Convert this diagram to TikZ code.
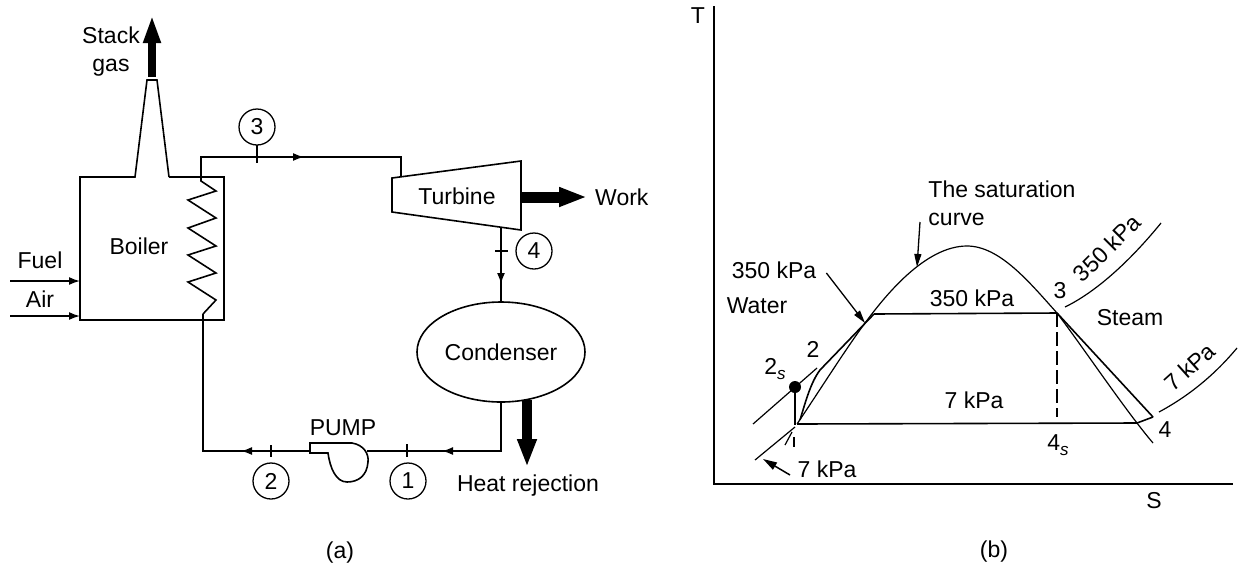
\documentclass[tikz,border=0pt]{standalone}
\usepackage{fontspec}
\setmainfont{Liberation Sans}
\usetikzlibrary{shapes,arrows}
\usetikzlibrary{arrows.meta}
\usetikzlibrary{positioning}
\usetikzlibrary{calc}
\newcommand\mystate[3]{%
  \node[mystate] (#1) at (#3) {#2};
}
\newcommand\mysub[2]{#1\raisebox{-5pt}{\fontsize{17}{17}\selectfont\textit{#2}}}
\begin{document}
\begin{tikzpicture}[
x=1pt,y=-1pt,
every node/.style={font=\fontsize{23}{28}\selectfont,inner sep=0pt},
node distance=8pt,
pipe/.style={line width=1.6pt},
thinline/.style={line width=1.2pt},
flow/.style={line width=1.6pt,-{Latex[length=11pt,width=8pt]}},
mystate/.style={circle,draw,line width=1.3pt,minimum size=36pt}
]
\useasboundingbox (0,0) rectangle (1239,566);
\fill[white] (0,0) rectangle (1239,566);

% boiler
\coordinate (stackl) at (135,177);
\coordinate (stackr) at (169,177);
\draw[pipe] (stackr) -- (224,177) -- (224,320) -- (80,320) -- (80,177) -- (stackl) -- (147,80) -- (157,80) -- (stackr);
\node (boiler) at (139,246) {Boiler};
\node (fuel) at (40,260) {Fuel};
\node (air) at (40,299) {Air};
\coordinate (fuel0) at (10,281);
\coordinate (fuel1) at (80,281);
\coordinate (air0) at (10,316);
\coordinate (air1) at (80,316);
\draw[flow] (fuel0) -- (fuel1);
\draw[flow] (air0) -- (air1);
\coordinate (stack0) at (152,77);
\coordinate (stack1) at (152,15);
\draw[line width=8pt,-{Triangle[length=28pt,width=16pt]}] (stack0) -- (stack1);
\node[align=center] (stackgas) at (111,52) {Stack\\gas};

% coil
\coordinate (coil0) at (201,177);
\coordinate (coil9) at (203,314);
\draw[pipe] (coil0) -- (201,181) -- (216,191) -- (188,200) -- (216,218) -- (188,228) -- (216,246) -- (188,255) -- (216,273) -- (188,282) -- (216,300) -- (coil9);

% turbine and condenser
\coordinate (turb1) at (392,178);
\coordinate (turb2) at (521,161);
\coordinate (turb3) at (521,230);
\coordinate (turb4) at (392,212);
\draw[pipe] (turb1) -- (turb2) -- (turb3) -- (turb4) -- cycle;
\node (turbine) at (457,196) {Turbine};
\coordinate (work0) at (522,197);
\coordinate (work1) at (587,197);
\draw[line width=11pt,-{Triangle[length=28pt,width=18pt]}] (work0) -- (work1);
\node[right=8pt of work1] (work) {Work};
\node[ellipse,draw,line width=1.6pt,minimum width=168pt,minimum height=100pt] (condenser) at (501,352) {Condenser};
\coordinate (heat0) at (527,400);
\coordinate (heat1) at (527,467);
\draw[line width=10pt,-{Triangle[length=28pt,width=18pt]}] (heat0) -- (heat1);
\node (heat) at (528,486) {Heat rejection};

% pump
\coordinate (pumpout) at (310,451);
\coordinate (pumpin) at (367,451);
\draw[pipe] (310,443) -- (352,443) .. controls (364,445) and (369,454) .. (368,462) .. controls (367,476) and (358,482) .. (347,482) .. controls (336,482) and (330,468) .. (328,453) -- (310,453) -- cycle;
\node (pump) at (343,428) {PUMP};

% connecting lines
\coordinate (pipe3a) at (201,157);
\coordinate (pipe3b) at (401,157);
\coordinate (pipe3c) at (401,176);
\coordinate (pipe2) at (203,451);
\coordinate (pipe1) at (501,451);
\coordinate (pipe4) at (501,228);
\draw[pipe] (coil0) -- (pipe3a) -- (pipe3b) -- (pipe3c);
\draw[flow] (pipe3a) -- (304,157);
\draw[pipe] (pipe4) -- (condenser.north);
\draw[flow] (pipe4) -- (501,284);
\draw[pipe] (condenser.south) -- (pipe1) -- (pumpin);
\draw[flow] (pipe1) -- (442,451);
\draw[pipe] (pumpout) -- (pipe2) -- (coil9);
\draw[flow] (pumpout) -- (241,451);

\mystate{s3}{3}{257,127}
\mystate{s4}{4}{534,251}
\mystate{s1}{1}{408,481}
\mystate{s2}{2}{271,481}
\draw[thinline] (257,145) -- (257,163);
\draw[thinline] (495,251) -- (508,251);
\draw[thinline] (407,444) -- (407,457);
\draw[thinline] (271,445) -- (271,457);
\node (capa) at (340,553) {(a)};

% axes
\coordinate (torigin) at (714,484);
\coordinate (ttop) at (714,6);
\coordinate (send) at (1233,484);
\draw[pipe] (ttop) -- (torigin) -- (send);
\node (tlabel) at (698,16) {T};
\node (slabel) at (1154,501) {S};
\node (capb) at (994,552) {(b)};

% saturation curve
\coordinate (liq) at (797,424);
\coordinate (vap) at (1057,313);
\coordinate (vapend) at (1153,443);
\draw[thinline] (liq) .. controls (820,390) and (845,350) .. (865,323) .. controls (885,296) and (925,246) .. (967,246) .. controls (1000,246) and (1030,283) .. (vap) .. controls (1085,350) and (1125,410) .. (vapend);

% cycle lines
\coordinate (p7r) at (1137,423);
\coordinate (s4end) at (1153,417);
\draw[pipe] (liq) -- (p7r) -- (s4end);
\draw[pipe] (874,314) -- (vap);
\draw[pipe] (vap) -- (s4end);
\draw[pipe] (800,420) .. controls (806,400) and (811,382) .. (820,370) -- (874,314);
\draw[thinline,dashed,dash pattern=on 14pt off 5pt] (vap) -- (1057,417);

% isobars
\draw[thinline] (753,424) -- (817,368);
\draw[thinline] (755,460) -- (795,427);
\draw[thinline] (1065,307) .. controls (1100,290) and (1135,255) .. (1161,223);
\draw[thinline] (1159,412) .. controls (1185,398) and (1212,378) .. (1237,348);
\node[circle,fill=black,minimum size=12pt] (dot2s) at (795,387) {};
\draw[thinline] (dot2s) -- (795,425);
\draw[thinline] (794,437) -- (794,447);
\draw[thinline] (785,445) -- (792,432);

% labels on the chart
\node (lbl3) at (1060,291) {3};
\node (lbl4) at (1165,430) {4};
\node (lbl2) at (813,349) {2};
\node (lbl2s) at (775,369) {\mysub{2}{s}};
\node (lbl4s) at (1058,445) {\mysub{4}{s}};
\node (water) at (757,306) {Water};
\node (steam) at (1130,318) {Steam};
\node (hi) at (774,270) {350 kPa};
\node (himid) at (972,298) {350 kPa};
\node (lomid) at (974,400) {7 kPa};
\node (lolow) at (827,469) {7 kPa};
\node[rotate=45] (hirot) at (1107,248) {350 kPa};
\node[rotate=42] (lorot) at (1190,367) {7 kPa};
\node[align=left] (satlabel) at (1002,203) {The saturation\\curve};
\draw[line width=1.3pt,-{Triangle[length=13pt,width=7pt]}] (hi.east) ++(10,3) -- (865,323);
\draw[line width=1.5pt,-{Triangle[length=14pt,width=8pt]}] (790,475) -- (763,459);
\draw[line width=1.3pt,-{Triangle[length=13pt,width=7pt]}] (920,222) -- (917,267);
\end{tikzpicture}
\end{document}
